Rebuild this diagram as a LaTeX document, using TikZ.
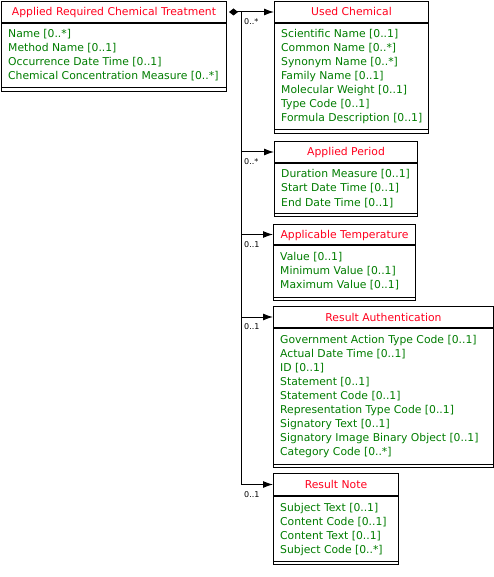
\documentclass[tikz,border=0pt]{standalone}
\usepackage{fontspec}
\setmainfont{DejaVu Sans}
\usetikzlibrary{arrows.meta}
\definecolor{hdrred}{RGB}{255,0,30}
\definecolor{attrgreen}{RGB}{0,125,0}
\newcommand\umlbox[8]{%
  \node[boxpart, minimum width=#4pt, minimum height=#5pt] (#1h) at (#2,#3) {};
  \node[titletext] (#1t) at ([yshift=-4pt]#1h.center) {#7};
  \node[boxpart, minimum width=#4pt, minimum height=#6pt] (#1b) at (#1h.south west) {};
  \draw[boxline] ([yshift=4pt]#1b.south west) -- ([yshift=4pt]#1b.south east);
  \foreach \a [count=\i] in {#8}
    \node[attrtext] (#1a\i) at ([xshift=7pt, yshift={-(15+14*(\i-1))*1pt}]#1b.north west) {\a};
}
\begin{document}
\begin{tikzpicture}[x=1pt, y=-1pt,
  boxline/.style={line width=1pt, draw=black},
  boxpart/.style={draw=black, line width=1pt, inner sep=0pt, anchor=north west, fill=white},
  titletext/.style={font=\fontsize{10.8}{13}\selectfont, text=hdrred, anchor=base, inner sep=0pt},
  attrtext/.style={font=\fontsize{10.8}{13}\selectfont, text=attrgreen, anchor=base west, inner sep=0pt},
  multtext/.style={font=\fontsize{8}{10}\selectfont, text=black, anchor=base west, inner sep=0pt},
  conn/.style={line width=1pt, draw=black},
  tohead/.style={conn, -{Latex[length=10pt, width=7pt]}}
]
\useasboundingbox[fill=white] (0,0) rectangle (494,577);

\umlbox{main}{1}{1}{225}{21}{68}{Applied Required Chemical Treatment}{Name [0..*], Method Name [0..1], Occurrence Date Time [0..1], Chemical Concentration Measure [0..*]}
\umlbox{uc}{274}{1}{154}{21}{110}{Used Chemical}{Scientific Name [0..1], Common Name [0..*], Synonym Name [0..*], Family Name [0..1], Molecular Weight [0..1], Type Code [0..1], Formula Description [0..1]}
\umlbox{ap}{274}{141}{143}{21}{53}{Applied Period}{Duration Measure [0..1], Start Date Time [0..1], End Date Time [0..1]}
\umlbox{at}{273}{224}{142}{20}{55}{Applicable Temperature}{Value [0..1], Minimum Value [0..1], Maximum Value [0..1]}
\umlbox{ra}{273}{306}{220}{21}{139}{Result Authentication}{Government Action Type Code [0..1], Actual Date Time [0..1], ID [0..1], Statement [0..1], Statement Code [0..1], Representation Type Code [0..1], Signatory Text [0..1], Signatory Image Binary Object [0..1], Category Code [0..*]}
\umlbox{rn}{273}{473}{125}{22}{68}{Result Note}{Subject Text [0..1], Content Code [0..1], Content Text [0..1], Subject Code [0..*]}

\coordinate (j) at ([xshift=14pt]mainh.east);
\draw[conn, {Diamond[length=9pt, width=7pt]}-, shorten <=2pt] (mainh.east) -- (j);
\draw[tohead] (j) -- (uch.west);
\draw[tohead] (j |- aph.west) -- (aph.west);
\draw[tohead] (j |- ath.west) -- (ath.west);
\draw[tohead] (j |- rah.west) -- (rah.west);
\draw[tohead] (j) -- (j |- rnh.west) -- (rnh.west);

\node[multtext] (m1) at ([xshift=3pt, yshift=-12.5pt]j) {0..*};
\node[multtext] (m2) at ([xshift=3pt, yshift=-12.5pt]j |- aph.west) {0..*};
\node[multtext] (m3) at ([xshift=3pt, yshift=-12.5pt]j |- ath.west) {0..1};
\node[multtext] (m4) at ([xshift=3pt, yshift=-12.5pt]j |- rah.west) {0..1};
\node[multtext] (m5) at ([xshift=3pt, yshift=-12.5pt]j |- rnh.west) {0..1};
\end{tikzpicture}
\end{document}
